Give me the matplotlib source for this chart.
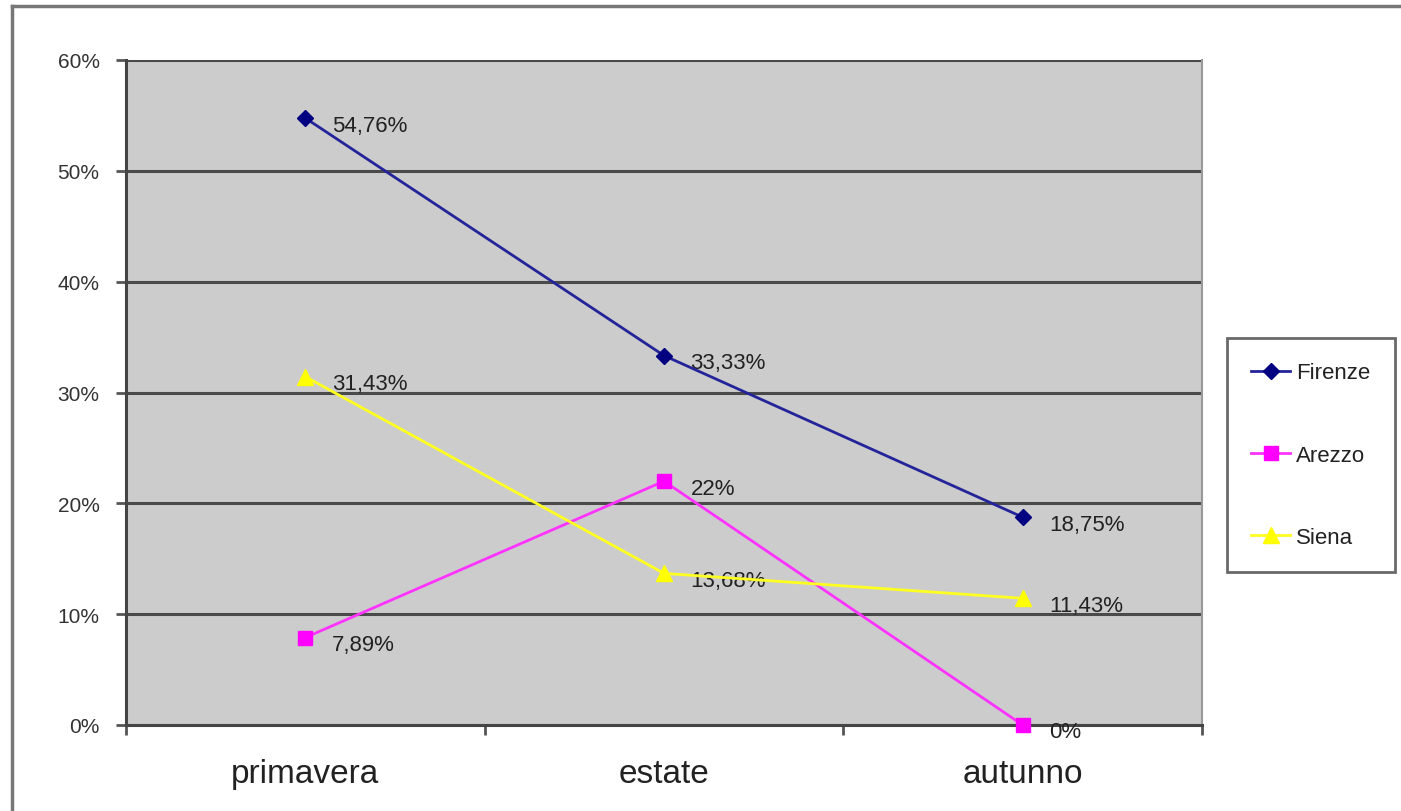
"""Stagionalità per provincia: line chart with data labels, Excel-like style."""

import matplotlib

matplotlib.use("Agg")
import matplotlib.pyplot as plt
from matplotlib.lines import Line2D
from matplotlib.ticker import FuncFormatter, MultipleLocator

plt.rcParams["font.family"] = ["Liberation Sans", "DejaVu Sans"]

seasons = ["primavera", "estate", "autunno"]
firenze = [54.76, 33.33, 18.75]
arezzo = [7.89, 22.0, 0.0]
siena = [31.43, 13.68, 11.43]
firenze_labels = ["54,76%", "33,33%", "18,75%"]
arezzo_labels = ["7,89%", "22%", "0%"]
siena_labels = ["31,43%", "13,68%", "11,43%"]

series = [
    ("Firenze", firenze, firenze_labels, "#24249a", "#000080", "D", 8),
    ("Arezzo", arezzo, arezzo_labels, "#ff33ff", "#ff00ff", "s", 10),
    ("Siena", siena, siena_labels, "#ffff22", "#ffff00", "^", 11),
]

fig = plt.figure(figsize=(14.01, 8.12), dpi=100)
ax = fig.add_axes([126 / 1401, 1 - 726 / 812, (1202 - 126) / 1401, (726 - 61) / 812])
ax.set_facecolor("#cccccc")

# outer chart frame
fig.add_artist(Line2D([12 / 1401, 12 / 1401], [0, 1 - 7 / 812], transform=fig.transFigure,
                      color="#777777", lw=2.5))
fig.add_artist(Line2D([12 / 1401, 1], [1 - 7 / 812, 1 - 7 / 812], transform=fig.transFigure,
                      color="#777777", lw=2.5))

x = list(range(len(seasons)))
handles = []
for name, values, labels, line_col, mark_col, marker, msize in series:
    (h,) = ax.plot(x, values, color=line_col, lw=2, marker=marker, markersize=msize,
                   markerfacecolor=mark_col, markeredgecolor=mark_col, zorder=4,
                   clip_on=False, label=name)
    handles.append(h)
    for xi, v, lab in zip(x, values, labels):
        ax.annotate(lab, (xi, v), xytext=(19, -5), textcoords="offset points",
                    ha="left", va="center", fontsize=16, color="#222222", zorder=3)

ax.set_xlim(-0.5, 2.5)
ax.set_ylim(0, 60)
ax.yaxis.set_major_locator(MultipleLocator(10))
ax.yaxis.set_major_formatter(FuncFormatter(lambda v, _: f"{v:.0f}%"))
ax.yaxis.grid(True, color="#4a4a4a", lw=2.2)
ax.set_axisbelow(True)

ax.set_xticks(x)
ax.set_xticklabels(seasons, fontsize=24, color="#222222")
ax.set_xticks([-0.5, 0.5, 1.5, 2.5], minor=True)
ax.tick_params(axis="x", which="major", length=0, pad=24)
ax.tick_params(axis="x", which="minor", length=7, width=2, color="#555555", direction="out")
ax.tick_params(axis="y", length=7, width=2, color="#555555", labelsize=15,
               labelcolor="#333333", pad=12)

for side in ("left", "bottom"):
    ax.spines[side].set_color("#444444")
    ax.spines[side].set_linewidth(2.2)
ax.spines["top"].set_visible(False)
ax.spines["right"].set_color("#999999")
ax.spines["right"].set_linewidth(1.5)

leg = fig.legend(handles=handles, loc="upper left",
                 bbox_to_anchor=(1227 / 1401, 1 - 339 / 812), fontsize=16,
                 frameon=True, fancybox=False, labelspacing=2.75, handlelength=1.75,
                 handletextpad=0.25, borderpad=1.1, borderaxespad=0)
leg.get_frame().set_edgecolor("#444444")
leg.get_frame().set_linewidth(2)
for t in leg.get_texts():
    t.set_color("#222222")

fig.savefig("out.png", dpi=100, facecolor="white")
